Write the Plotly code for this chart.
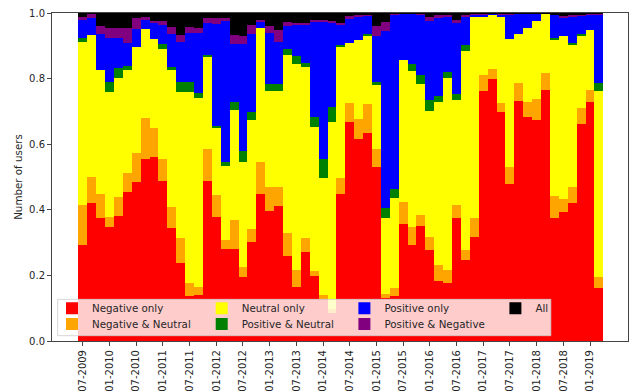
import plotly.graph_objects as go

months = ["07-2009", "09-2009", "11-2009",
          "01-2010", "03-2010", "05-2010", "07-2010", "09-2010", "11-2010",
          "01-2011", "03-2011", "05-2011", "07-2011", "09-2011", "11-2011",
          "01-2012", "03-2012", "05-2012", "07-2012", "09-2012", "11-2012",
          "01-2013", "03-2013", "05-2013", "07-2013", "09-2013", "11-2013",
          "01-2014", "03-2014", "05-2014", "07-2014", "09-2014", "11-2014",
          "01-2015", "03-2015", "05-2015", "07-2015", "09-2015", "11-2015",
          "01-2016", "03-2016", "05-2016", "07-2016", "09-2016", "11-2016",
          "01-2017", "03-2017", "05-2017", "07-2017", "09-2017", "11-2017",
          "01-2018", "03-2018", "05-2018", "07-2018", "09-2018", "11-2018",
          "01-2019", "03-2019"]

tick_labels = ["07-2009", "01-2010", "07-2010", "01-2011", "07-2011", "01-2012",
               "07-2012", "01-2013", "07-2013", "01-2014", "07-2014", "01-2015",
               "07-2015", "01-2016", "07-2016", "01-2017", "07-2017", "01-2018",
               "07-2018", "01-2019"]

negative_only = [.294, .420, .374, .348, .382, .455, .486, .555, .560, .489,
                 .345, .238, .136, .140, .489, .379, .282, .282, .196, .302,
                 .448, .397, .412, .260, .165, .270, .198, .129, .085, .448,
                 .667, .616, .633, .532, .132, .137, .358, .294, .351, .277,
                 .182, .178, .374, .246, .318, .763, .799, .698, .478, .732,
                 .684, .674, .766, .374, .394, .420, .661, .730, .162]
negative_neutral = [.120, .080, .074, .031, .056, .056, .086, .124, .089, .066,
                    .064, .075, .041, .025, .097, .066, .026, .087, .030, .039,
                    .097, .073, .058, .068, .051, .043, .016, .011, .014, .050,
                    .060, .061, .089, .054, .011, .025, .065, .054, .033, .039,
                    .049, .038, .040, .031, .056, .047, .031, .027, .054, .054,
                    .046, .064, .051, .069, .039, .050, .049, .036, .034]
neutral_only = [.497, .432, .377, .380, .365, .316, .323, .273, .273, .335,
                .416, .446, .582, .577, .279, .206, .227, .336, .319, .333,
                .410, .293, .293, .543, .628, .521, .437, .358, .568, .397,
                .181, .242, .207, .195, .233, .273, .434, .476, .399, .386,
                .497, .587, .321, .608, .616, .177, .165, .265, .390, .150,
                .224, .237, .180, .475, .496, .433, .222, .183, .567]
positive_neutral = [.013, .000, .000, .030, .029, .012, .000, .000, .000, .015,
                    .010, .030, .030, .014, .008, .006, .012, .025, .035, .023,
                    .000, .020, .020, .020, .024, .013, .033, .057, .045, .008,
                    .000, .000, .007, .009, .031, .027, .000, .020, .029, .033,
                    .020, .017, .018, .016, .000, .000, .000, .000, .000, .000,
                    .000, .000, .000, .006, .000, .007, .005, .000, .023]
positive_only = [.056, .053, .111, .135, .092, .071, .057, .028, .048, .059,
                 .100, .122, .151, .184, .097, .309, .428, .175, .325, .239,
                 .020, .157, .130, .069, .094, .117, .291, .420, .258, .061,
                 .075, .071, .057, .139, .537, .533, .140, .153, .183, .240,
                 .239, .167, .216, .089, .005, .008, .002, .005, .073, .062,
                 .043, .022, .001, .070, .056, .080, .056, .046, .209]
positive_negative = [.007, .012, .023, .030, .030, .045, .033, .007, .005, .013,
                     .021, .021, .016, .014, .015, .019, .010, .027, .025, .026,
                     .005, .019, .036, .012, .008, .006, .005, .005, .005, .006,
                     .007, .005, .003, .030, .028, .003, .001, .001, .002, .012,
                     .006, .008, .011, .003, .002, .002, .001, .002, .002, .001,
                     .002, .002, .001, .002, .007, .003, .003, .002, .002]
all_three = [.013, .003, .041, .046, .046, .045, .015, .013, .025, .023,
             .044, .068, .044, .046, .015, .015, .015, .068, .070, .038,
             .020, .041, .051, .028, .030, .030, .020, .020, .025, .030,
             .010, .005, .004, .041, .028, .002, .002, .002, .003, .013,
             .007, .005, .020, .007, .003, .003, .002, .003, .003, .001,
             .001, .001, .001, .004, .008, .007, .004, .003, .003]

series = [
    ("Negative only", negative_only, "#FF0000", "legend", 104.7),
    ("Negative & Neutral", negative_neutral, "#FFA500", "legend2", 104.7),
    ("Neutral only", neutral_only, "#FFFF00", "legend", 97.7),
    ("Positive & Neutral", positive_neutral, "#008000", "legend2", 97.7),
    ("Positive only", positive_only, "#0000FF", "legend", 106),
    ("Positive & Negative", positive_negative, "#800080", "legend2", 106),
    ("All", all_three, "#000000", "legend", 20),
]

FONT = "DejaVu Sans"
TXT = "#262626"

fig = go.Figure()
for name, vals, color, leg, lw in series:
    fig.add_trace(go.Bar(
        x=months, y=vals, name=name, legend=leg, legendwidth=lw,
        marker=dict(color=color, line=dict(width=0)),
    ))

fig.update_layout(
    width=631, height=392,
    template="none",
    barmode="stack", bargap=0,
    paper_bgcolor="white", plot_bgcolor="white",
    margin=dict(l=52, r=3, t=13, b=51, autoexpand=False),
    font=dict(family=FONT, size=10, color=TXT),
    xaxis=dict(
        type="category", categoryorder="array", categoryarray=months,
        range=[-3.46, 61.27],
        tickmode="array", tickvals=tick_labels, ticktext=tick_labels,
        tickangle=-90, ticks="outside", ticklen=4, tickcolor="#444",
        showline=True, linecolor="#444", linewidth=1, mirror=True,
        showgrid=False, zeroline=False, automargin=False,
        tickfont=dict(family=FONT, size=10, color=TXT),
    ),
    yaxis=dict(
        range=[0, 1], tickmode="array",
        tickvals=[0, 0.2, 0.4, 0.6, 0.8, 1.0], tickformat=".1f",
        ticks="outside", ticklen=4, tickcolor="#444",
        showline=True, linecolor="#444", linewidth=1, mirror=True,
        showgrid=False, zeroline=False, automargin=False,
        tickfont=dict(family=FONT, size=10, color=TXT),
        title=dict(text="Number of users", standoff=4,
                   font=dict(family=FONT, size=10.3, color=TXT)),
    ),
    legend=dict(
        orientation="h", x=0, xanchor="left", y=0.0997, yanchor="middle",
        bgcolor="rgba(0,0,0,0)", borderwidth=0, traceorder="normal",
        font=dict(family=FONT, size=10.3, color=TXT),
    ),
    legend2=dict(
        orientation="h", x=0, xanchor="left", y=0.0518, yanchor="middle",
        bgcolor="rgba(0,0,0,0)", borderwidth=0, traceorder="normal",
        font=dict(family=FONT, size=10.3, color=TXT),
    ),
    shapes=[dict(
        type="rect", xref="paper", yref="paper",
        x0=0.0099, x1=0.866, y0=0.0162, y1=0.127,
        fillcolor="rgba(255,255,255,0.8)",
        line=dict(color="rgba(204,204,204,0.8)", width=1),
        layer="above",
    )],
)

fig.write_html("out.html")
